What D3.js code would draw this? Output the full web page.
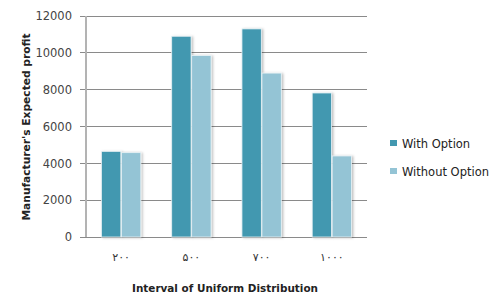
<!DOCTYPE html>
<html><head><meta charset="utf-8">
<script src="https://cdn.jsdelivr.net/npm/d3@7"></script>
<style>body{margin:0;background:#fff}svg{display:block}text{font-family:"DejaVu Sans",Verdana,sans-serif}</style>
</head><body><svg id="c" width="492" height="295"></svg>
<script>
const categories = ["۲۰۰", "۵۰۰", "۷۰۰", "۱۰۰۰"];
const seriesNames = ["With Option", "Without Option"];
const withOption = [4650, 10900, 11300, 7820];
const withoutOption = [4580, 9850, 8900, 4400];
const yTicks = [0, 2000, 4000, 6000, 8000, 10000, 12000];
const colors = ["#4298b0", "#94c4d5"];

const svg = d3.select("#c");
const m = {l: 86, r: 367, t: 16, b: 237};
const x = d3.scaleBand().domain(categories).range([m.l, m.r]).paddingInner(0.44).paddingOuter(0.22);
const xs = d3.scaleBand().domain(seriesNames).range([0, x.bandwidth()]).paddingInner(0.03);
const y = d3.scaleLinear().domain([0, 12000]).range([m.b, m.t]);

const defs = svg.append("defs");
const f = defs.append("filter").attr("id","sh").attr("x","-20%").attr("y","-10%").attr("width","150%").attr("height","130%");
f.append("feDropShadow").attr("dx",1.5).attr("dy",0.5).attr("stdDeviation",0.8).attr("flood-color","#000").attr("flood-opacity",0.25);

// gridlines
svg.append("g").selectAll("line").data(yTicks).join("line")
  .attr("x1", m.l - 6).attr("x2", m.r).attr("y1", d => y(d)).attr("y2", d => y(d))
  .attr("stroke", "#8a8a8a").attr("stroke-width", 1).attr("shape-rendering","crispEdges");

// y axis line
svg.append("line").attr("x1", m.l).attr("x2", m.l).attr("y1", m.t).attr("y2", m.b)
  .attr("stroke", "#b3b3b3").attr("stroke-width", 2).attr("shape-rendering","crispEdges");

// y tick labels
const yAxis = d3.axisLeft(y).tickValues(yTicks).tickFormat(d3.format("d")).tickSize(0).tickPadding(14);
const ga = svg.append("g").attr("transform", `translate(${m.l},0)`).call(yAxis);
ga.select(".domain").remove();
ga.selectAll("text").attr("font-size", 11.5).attr("fill", "#444").style("font-family","DejaVu Sans");

// bars
const data = categories.map((c, i) => ({c, vals: [withOption[i], withoutOption[i]]}));
const g = svg.append("g").selectAll("g").data(data).join("g").attr("transform", d => `translate(${x(d.c)},0)`);
g.selectAll("rect").data(d => d.vals.map((v, j) => ({v, s: seriesNames[j], j}))).join("rect")
  .attr("x", d => xs(d.s)).attr("width", xs.bandwidth())
  .attr("y", d => y(d.v)).attr("height", d => y(0) - y(d.v))
  .attr("fill", d => colors[d.j]).attr("stroke", "#e8f2f5").attr("stroke-width", 0.8)
  .attr("filter", "url(#sh)");

// x labels
const xAxis = d3.axisBottom(x).tickSize(0).tickPadding(16);
const gx = svg.append("g").attr("transform", `translate(0,${m.b})`).call(xAxis);
gx.select(".domain").remove();
gx.selectAll("text").attr("font-size", 11).attr("fill", "#333").attr("letter-spacing", 1).style("font-family","DejaVu Sans");

// axis titles
svg.append("text").attr("x", 225).attr("y", 292).attr("text-anchor", "middle")
  .attr("font-size", 11).attr("font-weight", "bold").attr("fill", "#222")
  .attr("textLength", 186).attr("lengthAdjust","spacingAndGlyphs")
  .text("Interval of Uniform Distribution");
svg.append("text").attr("transform", "translate(30,127) rotate(-90)").attr("text-anchor", "middle")
  .attr("font-size", 11).attr("font-weight", "bold").attr("fill", "#222")
  .attr("textLength", 187).attr("lengthAdjust","spacingAndGlyphs")
  .text("Manufacturer's Expected profit");

// legend
const lg = svg.append("g").selectAll("g").data(seriesNames).join("g")
  .attr("transform", (d, i) => `translate(390,${140 + i * 28})`);
lg.append("rect").attr("width", 7).attr("height", 6).attr("fill", (d, i) => colors[i]);
lg.append("text").attr("x", 12).attr("y", 7.5).attr("font-size", 11.5).attr("fill", "#222").text(d => d);
</script></body></html>
